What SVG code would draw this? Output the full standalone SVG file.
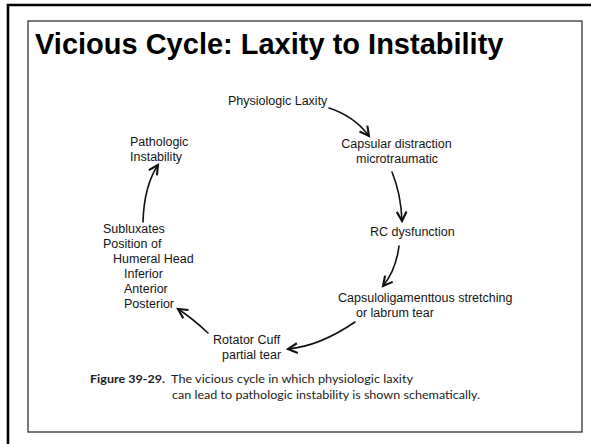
<svg xmlns="http://www.w3.org/2000/svg" width="591" height="444" viewBox="0 0 591 444">
<defs>
<style>
.lbl{font-family:"Liberation Sans",Arial,sans-serif;font-size:12.5px;fill:#151515}
.cap{font-family:"Lato","Open Sans",sans-serif;font-size:11.5px;fill:#222}
.conn{fill:none;stroke:#111;stroke-width:1.6;stroke-linecap:round}
</style>
<marker id="ah" markerUnits="userSpaceOnUse" markerWidth="14" markerHeight="14" viewBox="-10 -6 12 12" refX="0" refY="0" orient="auto">
<path d="M-8,-4.2 L0,0 L-8,4.2" fill="none" stroke="#111" stroke-width="1.8" stroke-linejoin="miter"/>
</marker>
</defs>
<rect x="0" y="0" width="591" height="444" fill="#fff"/>
<path d="M8,444 V5 H591" fill="none" stroke="#000" stroke-width="2.6"/>
<rect x="28" y="21" width="554" height="411" fill="#fff" stroke="#333" stroke-width="1.3"/>
<text x="35" y="54" style="font-family:'Liberation Sans',Arial,sans-serif;font-weight:bold;font-size:29px;fill:#000">Vicious Cycle: Laxity to Instability</text>
<g id="conns">
<path class="conn" marker-end="url(#ah)" d="M329,108 Q354,116 369,136"/>
<path class="conn" marker-end="url(#ah)" d="M392,172 Q401,194 402,221"/>
<path class="conn" marker-end="url(#ah)" d="M399,246 Q396,270 383,286"/>
<path class="conn" marker-end="url(#ah)" d="M355,322 Q320,346 288,349"/>
<path class="conn" marker-end="url(#ah)" d="M208,333 Q192,318 178,309"/>
<path class="conn" marker-end="url(#ah)" d="M143,222 Q144,186 158,165"/>
</g>
<g id="n1"><text class="lbl" x="228" y="105">Physiologic Laxity</text></g>
<g id="n2"><text class="lbl" x="396.5" y="148" text-anchor="middle">Capsular distraction</text><text class="lbl" x="397" y="163" text-anchor="middle">microtraumatic</text></g>
<g id="n3"><text class="lbl" x="370" y="236">RC dysfunction</text></g>
<g id="n4"><text class="lbl" x="338" y="302">Capsuloligamenttous stretching</text><text class="lbl" x="356" y="317">or labrum tear</text></g>
<g id="n5"><text class="lbl" x="213" y="343.5">Rotator Cuff</text><text class="lbl" x="222" y="358.5">partial tear</text></g>
<g id="n6"><text class="lbl" x="103" y="232.5">Subluxates</text><text class="lbl" x="103" y="247.5">Position of</text><text class="lbl" x="113" y="262.5">Humeral Head</text><text class="lbl" x="124" y="277.5">Inferior</text><text class="lbl" x="124" y="292.5">Anterior</text><text class="lbl" x="124" y="307.5">Posterior</text></g>
<g id="n7"><text class="lbl" x="130" y="146">Pathologic</text><text class="lbl" x="130" y="161">Instability</text></g>
<g id="caption">
<text class="cap" x="90" y="382.5" font-weight="bold" textLength="75" lengthAdjust="spacingAndGlyphs">Figure 39-29.</text>
<text class="cap" x="171" y="382.5" textLength="242" lengthAdjust="spacingAndGlyphs">The vicious cycle in which physiologic laxity</text>
<text class="cap" x="172" y="399" textLength="308" lengthAdjust="spacingAndGlyphs">can lead to pathologic instability is shown schematically.</text>
</g>
</svg>
